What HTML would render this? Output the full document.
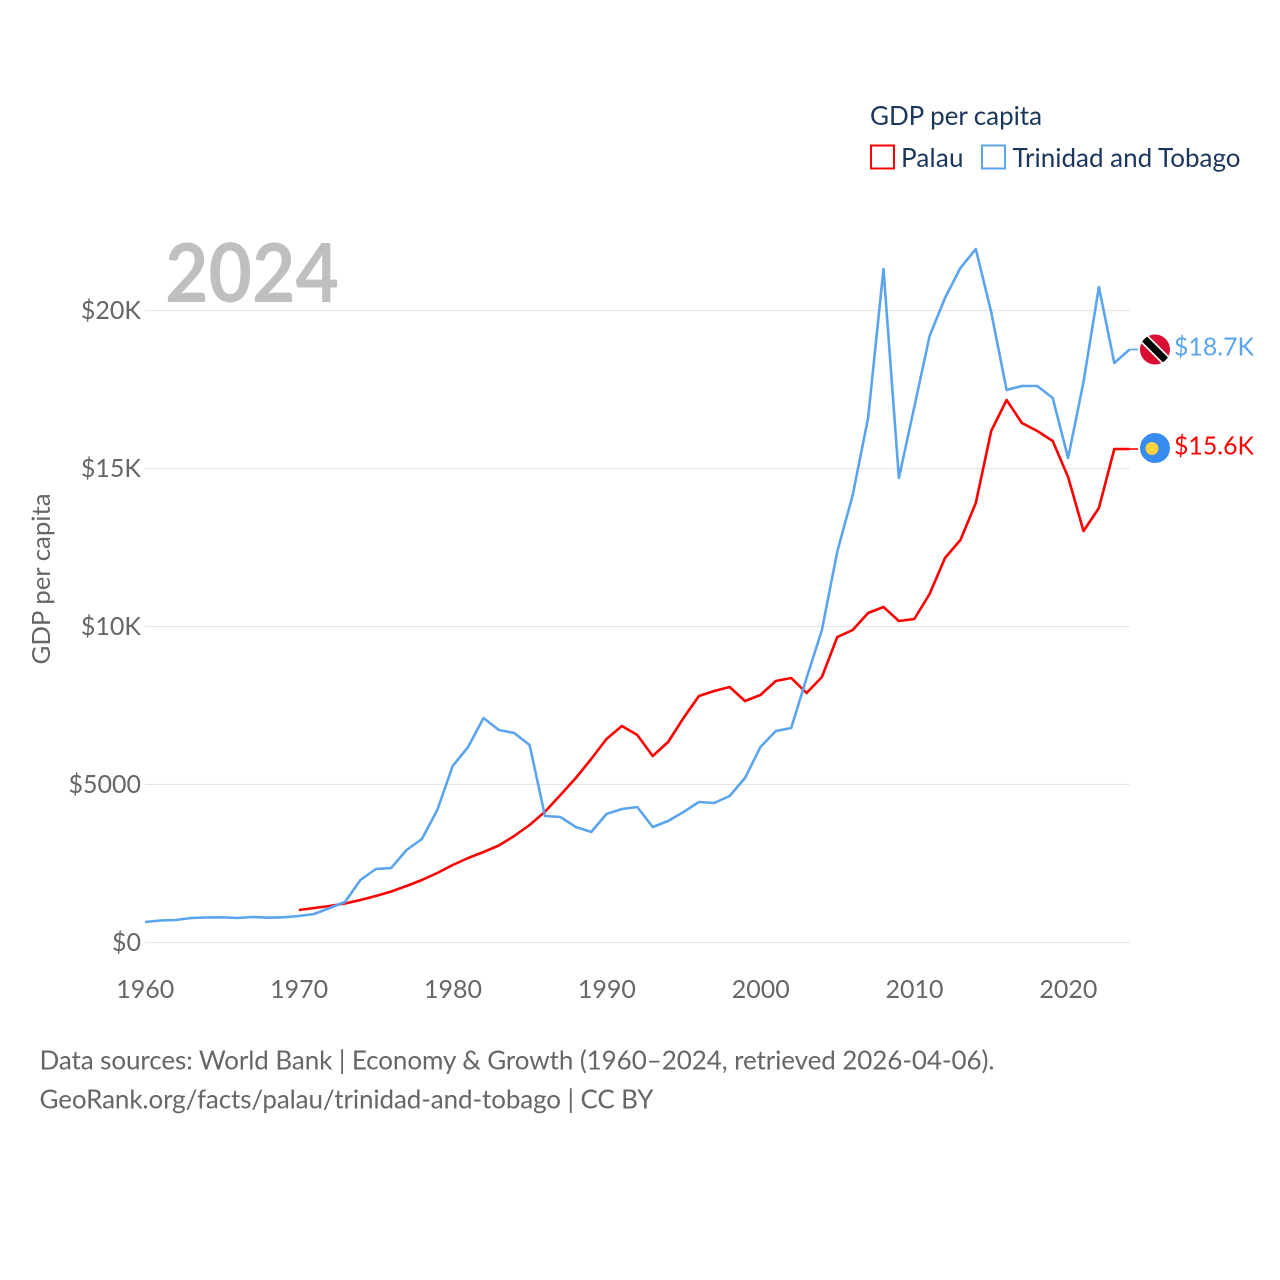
<!DOCTYPE html>
<html>
<head>
<meta charset="utf-8">
<title>GDP per capita: Palau and Trinidad and Tobago</title>
<style>
html,body{margin:0;padding:0;background:#fff;}
svg{display:block;font-family:"Lato","Carlito","Liberation Sans",sans-serif;}
</style>
</head>
<body>
<svg id="chart" width="1280" height="1280" viewBox="0 0 1280 1280" xmlns="http://www.w3.org/2000/svg">
  <rect width="1280" height="1280" fill="#ffffff"/>
  <g id="grid"></g>
  <text x="165" y="302" font-size="81" font-weight="700" fill="#bfbfbf" textLength="174" lengthAdjust="spacingAndGlyphs">2024</text>
  <g id="yticks"></g>
  <g id="xticks"></g>
  <text transform="translate(50,664.5) rotate(-90)" font-size="25" fill="#666666" textLength="171" lengthAdjust="spacingAndGlyphs">GDP per capita</text>
  <g id="series"></g>

  <g>
    <text x="870" y="125" font-size="26" fill="#1b365d" textLength="172" lengthAdjust="spacing">GDP per capita</text>
    <g>
      <rect x="871" y="145.5" width="23" height="23" fill="#ffffff" stroke="#ff0000" stroke-width="2"/>
      <text x="901" y="167" font-size="26" fill="#1b365d" textLength="62.5" lengthAdjust="spacing">Palau</text>
    </g>
    <g>
      <rect x="982" y="145.5" width="23" height="23" fill="#ffffff" stroke="#5ba4ee" stroke-width="2"/>
      <text x="1012.5" y="167" font-size="26" fill="#1b365d" textLength="228" lengthAdjust="spacing">Trinidad and Tobago</text>
    </g>
  </g>

  <defs>
    <clipPath id="tt-clip"><circle cx="1155" cy="349.5" r="15"/></clipPath>
  </defs>
  <g clip-path="url(#tt-clip)">
    <rect x="1139" y="333" width="32" height="33" fill="#d80f32"/>
    <line x1="1141" y1="335.5" x2="1169" y2="363.5" stroke="#ffffff" stroke-width="10.5"/>
    <line x1="1141" y1="335.5" x2="1169" y2="363.5" stroke="#000000" stroke-width="7"/>
  </g>
  <g>
    <circle cx="1155" cy="448" r="15" fill="#368bf0"/>
    <circle cx="1152" cy="448.5" r="6.5" fill="#ffd23f"/>
  </g>
  <text x="1174" y="355.5" font-size="25.6" fill="#5ba4ee" textLength="80" lengthAdjust="spacingAndGlyphs">$18.7K</text>
  <text x="1174" y="454.5" font-size="25.6" fill="#ff0000" textLength="80" lengthAdjust="spacingAndGlyphs">$15.6K</text>

  <text x="39.5" y="1069.5" font-size="26" fill="#666666" textLength="955" lengthAdjust="spacing">Data sources: World Bank | Economy &amp; Growth (1960–2024, retrieved 2026-04-06).</text>
  <text x="39.5" y="1108.5" font-size="26" fill="#666666" textLength="614" lengthAdjust="spacing">GeoRank.org/facts/palau/trinidad-and-tobago | CC BY</text>
</svg>
<script>
const xTickYears = [1960, 1970, 1980, 1990, 2000, 2010, 2020];
const yTickValues = [0, 5000, 10000, 15000, 20000];
const yTickLabels = ["$0", "$5000", "$10K", "$15K", "$20K"];
const blueStartYear = 1960;
const trinidadValues = [649,696,712,775,791,797,775,807,785,797,839,902,1092,1282,1978,2326,2358,2927,3275,4193,5585,6187,7104,6725,6630,6250,4003,3972,3655,3497,4066,4225,4288,3655,3845,4130,4446,4415,4636,5206,6187,6693,6788,8370,9889,12373,14161,16598,21310,14699,16946,19193,20396,21345,21946,19950,17484,17611,17611,17231,15332,17737,20744,18339,18766];
const redStartYear = 1970;
const palauValues = [1028,1092,1155,1234,1345,1472,1614,1788,1978,2199,2453,2674,2864,3070,3370,3718,4139,4668,5206,5807,6440,6851,6566,5902,6345,7104,7801,7959,8085,7642,7832,8275,8370,7896,8402,9668,9889,10427,10617,10174,10237,11028,12168,12737,13908,16187,17168,16440,16187,15870,14731,13022,13750,15617,15617];

const NS = "http://www.w3.org/2000/svg";
function xScale(year) { return 145 + (year - 1960) * 15.385; }
function yScale(value) { return 942.5 - value * 0.0316; }

const grid = document.getElementById("grid");
const yticks = document.getElementById("yticks");
const xticks = document.getElementById("xticks");
const seriesGroup = document.getElementById("series");

yTickValues.forEach(function (v, i) {
  const line = document.createElementNS(NS, "line");
  
  
  line.setAttribute("x1", xScale(1960));
  line.setAttribute("x2", xScale(2024));
  line.setAttribute("y1", yScale(v));
  line.setAttribute("y2", yScale(v));
  line.setAttribute("stroke", "#e6e6e6");
  line.setAttribute("stroke-width", "1.3");
  grid.appendChild(line);

  const t = document.createElementNS(NS, "text");
  
  
  t.setAttribute("x", 141);
  t.setAttribute("y", yScale(v) + 8.5);
  t.setAttribute("text-anchor", "end");
  t.setAttribute("font-size", "25");
  t.setAttribute("fill", "#666666");
  t.textContent = yTickLabels[i];
  yticks.appendChild(t);
});

xTickYears.forEach(function (yr) {
  const t = document.createElementNS(NS, "text");
  
  
  t.setAttribute("x", xScale(yr) + 0.3);
  t.setAttribute("y", 998);
  t.setAttribute("text-anchor", "middle");
  t.setAttribute("font-size", "25");
  t.setAttribute("fill", "#666666");
  t.textContent = String(yr);
  xticks.appendChild(t);
});

function buildPoints(values, startYear) {
  return values.map(function (v, i) {
    return xScale(startYear + i).toFixed(1) + "," + yScale(v).toFixed(1);
  }).join(" ");
}

const palauLine = document.createElementNS(NS, "polyline");


palauLine.setAttribute("points", buildPoints(palauValues, redStartYear));
palauLine.setAttribute("fill", "none");
palauLine.setAttribute("stroke", "#ff0000");
palauLine.setAttribute("stroke-width", "2.6");
palauLine.setAttribute("stroke-linejoin", "round");
seriesGroup.appendChild(palauLine);

const trinidadLine = document.createElementNS(NS, "polyline");


trinidadLine.setAttribute("points", buildPoints(trinidadValues, blueStartYear));
trinidadLine.setAttribute("fill", "none");
trinidadLine.setAttribute("stroke", "#5ba4ee");
trinidadLine.setAttribute("stroke-width", "2.6");
trinidadLine.setAttribute("stroke-linejoin", "round");
seriesGroup.appendChild(trinidadLine);

const palauLast = palauValues[palauValues.length - 1];
const palauConnector = document.createElementNS(NS, "line");


palauConnector.setAttribute("x1", xScale(2024));
palauConnector.setAttribute("x2", 1138);
palauConnector.setAttribute("y1", yScale(palauLast));
palauConnector.setAttribute("y2", yScale(palauLast));
palauConnector.setAttribute("stroke", "#ff0000");
palauConnector.setAttribute("stroke-width", "1.6");
seriesGroup.appendChild(palauConnector);

const trinidadLast = trinidadValues[trinidadValues.length - 1];
const trinidadConnector = document.createElementNS(NS, "line");


trinidadConnector.setAttribute("x1", xScale(2024));
trinidadConnector.setAttribute("x2", 1138);
trinidadConnector.setAttribute("y1", yScale(trinidadLast));
trinidadConnector.setAttribute("y2", yScale(trinidadLast));
trinidadConnector.setAttribute("stroke", "#5ba4ee");
trinidadConnector.setAttribute("stroke-width", "1.6");
seriesGroup.appendChild(trinidadConnector);
</script>
</body>
</html>
